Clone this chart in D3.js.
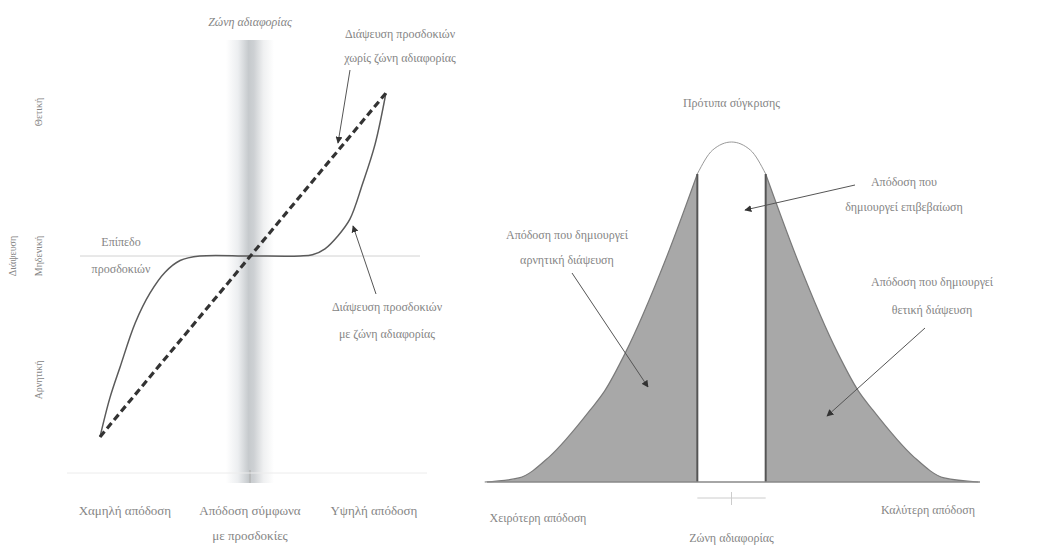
<!DOCTYPE html>
<html>
<head>
<meta charset="utf-8">
<script src="https://cdn.jsdelivr.net/npm/d3@7"></script>
<style>
  body { margin: 0; background: #fff; }
  text { font-family: "Liberation Serif", "DejaVu Serif", serif; fill: #858585; }
</style>
</head>
<body>
<script>
// left panel: disconfirmation vs performance
var sCurveX = [0, 0.33, 0.67, 1.17, 1.67, 2.17, 2.67, 3.33, 5, 6.67, 7.08, 7.5, 7.92, 8.33, 8.75, 9.17, 9.53];
var sCurveY = [-6.03, -4.73, -3.7, -2.24, -1.23, -0.54, -0.15, 0, 0, 0, 0.04, 0.24, 0.66, 1.23, 2.4, 3.73, 5.43];
var dashX = [0, 9.53];
var dashY = [-6.03, 5.43];
var zoneLeft = [4.2, 5.8];
var leftTickVals = [0.83, 5, 9.13];
var leftTickLabels = [["Χαμηλή απόδοση"], ["Απόδοση σύμφωνα", "με προσδοκίες"], ["Υψηλή απόδοση"]];
var yLevelVals = [-4.13, 0, 4.8];
var yLevelLabels = ["Αρνητική", "Μηδενική", "Θετική"];

// right panel: distribution of performance
var bellX = [-3.25, -2.8, -2.4, -1.86, -1.67, -1.4, -0.87, -0.45, -0.25, 0, 0.25, 0.45, 0.87, 1.4, 1.67, 1.86, 2.4, 2.8, 3.25];
var bellY = [0, 0.012, 0.074, 0.212, 0.268, 0.379, 0.653, 0.906, 0.976, 1, 0.976, 0.906, 0.653, 0.379, 0.268, 0.212, 0.074, 0.012, 0];
var zoneRight = [-0.45, 0.45];

var width = 1042, height = 549;
var svg = d3.select("body").append("svg")
    .attr("width", width)
    .attr("height", height);

var defs = svg.append("defs");
var grad = defs.append("linearGradient").attr("id", "zoneGrad")
    .attr("x1", "0%").attr("x2", "100%").attr("y1", "0%").attr("y2", "0%");
grad.append("stop").attr("offset", "0%").attr("stop-color", "#ffffff");
grad.append("stop").attr("offset", "25%").attr("stop-color", "#eceef0");
grad.append("stop").attr("offset", "47%").attr("stop-color", "#c6cacd");
grad.append("stop").attr("offset", "58%").attr("stop-color", "#cdd0d3");
grad.append("stop").attr("offset", "78%").attr("stop-color", "#eff0f1");
grad.append("stop").attr("offset", "100%").attr("stop-color", "#ffffff");

defs.append("marker").attr("id", "arrow")
    .attr("viewBox", "0 0 10 10").attr("refX", 9).attr("refY", 5)
    .attr("markerWidth", 7).attr("markerHeight", 7)
    .attr("markerUnits", "userSpaceOnUse")
    .attr("orient", "auto")
  .append("path").attr("d", "M0,0 L10,5 L0,10 z").attr("fill", "#333");

// ---------- left chart ----------
var xL = d3.scaleLinear().domain([0, 10]).range([100, 400]);
var yL = d3.scaleLinear().domain([-6, 6]).range([436, 76]);

var left = svg.append("g");

left.append("rect")
    .attr("x", xL(zoneLeft[0]))
    .attr("y", 40)
    .attr("width", xL(zoneLeft[1]) - xL(zoneLeft[0]))
    .attr("height", 443)
    .attr("fill", "url(#zoneGrad)");

left.append("line")
    .attr("x1", xL(5)).attr("x2", xL(5))
    .attr("y1", 470).attr("y2", 483)
    .attr("stroke", "#aaa");

// baseline
left.append("line")
    .attr("x1", 67).attr("x2", 427)
    .attr("y1", 473).attr("y2", 473)
    .attr("stroke", "#ececec");

// expectation level
left.append("line")
    .attr("x1", 80).attr("x2", 420)
    .attr("y1", yL(0)).attr("y2", yL(0))
    .attr("stroke", "#d2d2d2");

var sData = sCurveX.map(function(d, i) { return [d, sCurveY[i]]; });
var lineL = d3.line()
    .x(function(d) { return xL(d[0]); })
    .y(function(d) { return yL(d[1]); })
    .curve(d3.curveCatmullRom);

left.append("path")
    .attr("d", lineL(sData))
    .attr("fill", "none")
    .attr("stroke", "#5a5a5a")
    .attr("stroke-width", 1.5);

left.append("path")
    .attr("d", d3.line()
        .x(function(d) { return xL(d[0]); })
        .y(function(d) { return yL(d[1]); })(dashX.map(function(d, i) { return [d, dashY[i]]; })))
    .attr("fill", "none")
    .attr("stroke", "#333")
    .attr("stroke-width", 3.2)
    .attr("stroke-dasharray", "7,4");

// x labels
leftTickVals.forEach(function(v, i) {
  var t = left.append("text")
      .attr("x", xL(v))
      .attr("y", 515)
      .attr("text-anchor", "middle")
      .attr("font-size", 13);
  leftTickLabels[i].forEach(function(s, j) {
    t.append("tspan").attr("x", xL(v)).attr("dy", j ? 25 : 0).text(s);
  });
});

// y labels
yLevelVals.forEach(function(v, i) {
  left.append("text")
      .attr("transform", "translate(42," + yL(v) + ") rotate(-90)")
      .attr("text-anchor", "middle")
      .attr("font-size", 10)
      .text(yLevelLabels[i]);
});
left.append("text")
    .attr("transform", "translate(16," + yL(0) + ") rotate(-90)")
    .attr("text-anchor", "middle")
    .attr("font-size", 10)
    .attr("fill", "#aaa")
    .text("Διάψευση");

left.append("text")
    .attr("x", xL(5)).attr("y", 26)
    .attr("text-anchor", "middle").attr("font-size", 12)
    .attr("font-style", "italic")
    .text("Ζώνη αδιαφορίας");

var lbl1 = left.append("text").attr("text-anchor", "middle").attr("font-size", 12);
lbl1.append("tspan").attr("x", 400).attr("y", 38).text("Διάψευση προσδοκιών");
lbl1.append("tspan").attr("x", 400).attr("y", 62).text("χωρίς ζώνη αδιαφορίας");

var lbl2 = left.append("text").attr("text-anchor", "middle").attr("font-size", 12);
lbl2.append("tspan").attr("x", 387).attr("y", 311).text("Διάψευση προσδοκιών");
lbl2.append("tspan").attr("x", 387).attr("y", 338).text("με ζώνη αδιαφορίας");

var lbl3 = left.append("text").attr("text-anchor", "middle").attr("font-size", 12);
lbl3.append("tspan").attr("x", 121).attr("y", 246).text("Επίπεδο");
lbl3.append("tspan").attr("x", 121).attr("y", 273).text("προσδοκιών");

left.append("line")
    .attr("x1", 350).attr("y1", 70).attr("x2", 338).attr("y2", 143)
    .attr("stroke", "#555").attr("stroke-width", 1)
    .attr("marker-end", "url(#arrow)");
left.append("line")
    .attr("x1", 376).attr("y1", 294).attr("x2", 353).attr("y2", 226)
    .attr("stroke", "#555").attr("stroke-width", 1)
    .attr("marker-end", "url(#arrow)");

// ---------- right chart ----------
var xR = d3.scaleLinear().domain([-3.2, 3.2]).range([488.5, 974.5]);
var yR = d3.scaleLinear().domain([0, 1]).range([482, 142]);

var right = svg.append("g");
var bell = bellX.map(function(d, i) { return [d, bellY[i]]; });

var area = d3.area()
    .x(function(d) { return xR(d[0]); })
    .y0(yR(0))
    .y1(function(d) { return yR(d[1]); })
    .curve(d3.curveMonotoneX);
var lineR = d3.line()
    .x(function(d) { return xR(d[0]); })
    .y(function(d) { return yR(d[1]); })
    .curve(d3.curveMonotoneX);

var leftTail = bell.filter(function(d) { return d[0] <= zoneRight[0]; });
var rightTail = bell.filter(function(d) { return d[0] >= zoneRight[1]; });

[leftTail, rightTail].forEach(function(part) {
  right.append("path")
      .attr("d", area(part))
      .attr("fill", "#a8a8a8");
  right.append("path")
      .attr("d", lineR(part))
      .attr("fill", "none")
      .attr("stroke", "#7a7a7a")
      .attr("stroke-width", 1.2);
});

right.append("path")
    .attr("d", lineR(bell.filter(function(d) { return d[0] >= zoneRight[0] && d[0] <= zoneRight[1]; })))
    .attr("fill", "none")
    .attr("stroke", "#999")
    .attr("stroke-width", 1);

zoneRight.forEach(function(z) {
  var h = bellY[bellX.indexOf(z)];
  right.append("line")
      .attr("x1", xR(z)).attr("x2", xR(z))
      .attr("y1", yR(0)).attr("y2", yR(h))
      .attr("stroke", "#555").attr("stroke-width", 2);
});

right.append("line")
    .attr("x1", 487).attr("x2", 980)
    .attr("y1", yR(0)).attr("y2", yR(0))
    .attr("stroke", "#888").attr("stroke-width", 1.5);

// zone bracket under the axis
right.append("line")
    .attr("x1", xR(zoneRight[0])).attr("x2", xR(zoneRight[1]))
    .attr("y1", 498).attr("y2", 498)
    .attr("stroke", "#ccc");
right.append("line")
    .attr("x1", xR(0)).attr("x2", xR(0))
    .attr("y1", 492).attr("y2", 505)
    .attr("stroke", "#ccc");

right.append("text").attr("x", xR(0)).attr("y", 107)
    .attr("text-anchor", "middle").attr("font-size", 12)
    .text("Πρότυπα σύγκρισης");

var r1 = right.append("text").attr("text-anchor", "middle").attr("font-size", 12);
r1.append("tspan").attr("x", 904).attr("y", 186).text("Απόδοση που");
r1.append("tspan").attr("x", 904).attr("y", 211).text("δημιουργεί επιβεβαίωση");

var r2 = right.append("text").attr("text-anchor", "middle").attr("font-size", 12);
r2.append("tspan").attr("x", 567).attr("y", 239).text("Απόδοση που δημιουργεί");
r2.append("tspan").attr("x", 567).attr("y", 264).text("αρνητική διάψευση");

var r3 = right.append("text").attr("text-anchor", "middle").attr("font-size", 12);
r3.append("tspan").attr("x", 932).attr("y", 286).text("Απόδοση που δημιουργεί");
r3.append("tspan").attr("x", 932).attr("y", 314).text("θετική διάψευση");

right.append("text").attr("x", 538).attr("y", 522)
    .attr("text-anchor", "middle").attr("font-size", 12)
    .text("Χειρότερη απόδοση");
right.append("text").attr("x", 928).attr("y", 514)
    .attr("text-anchor", "middle").attr("font-size", 12)
    .text("Καλύτερη απόδοση");
right.append("text").attr("x", xR(0)).attr("y", 542)
    .attr("text-anchor", "middle").attr("font-size", 12)
    .text("Ζώνη αδιαφορίας");

right.append("line")
    .attr("x1", 855).attr("y1", 185).attr("x2", 745).attr("y2", 210)
    .attr("stroke", "#555").attr("stroke-width", 1)
    .attr("marker-end", "url(#arrow)");
right.append("line")
    .attr("x1", 572).attr("y1", 273).attr("x2", 648).attr("y2", 387)
    .attr("stroke", "#555").attr("stroke-width", 1)
    .attr("marker-end", "url(#arrow)");
right.append("line")
    .attr("x1", 925).attr("y1", 328).attr("x2", 827).attr("y2", 416)
    .attr("stroke", "#555").attr("stroke-width", 1)
    .attr("marker-end", "url(#arrow)");
</script>
</body>
</html>
